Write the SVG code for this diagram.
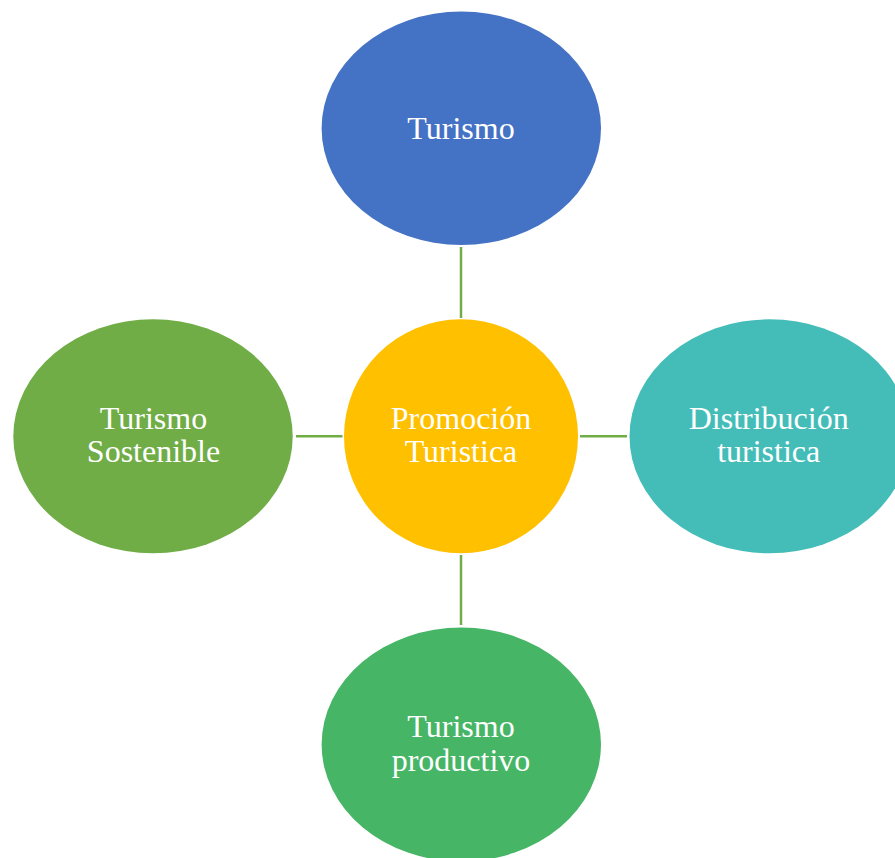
<svg xmlns="http://www.w3.org/2000/svg" width="895" height="858" viewBox="0 0 895 858">
<style>
.lbl{font-family:"Liberation Serif","Times New Roman",serif;font-size:32px;fill:#ffffff;text-anchor:middle}
.conn{stroke:#70AD47;stroke-width:2.5;fill:none}
</style>
<rect width="895" height="858" fill="#ffffff"/>
<g id="connectors">
<line class="conn" x1="461" y1="247" x2="461" y2="318"/>
<line class="conn" x1="461" y1="555" x2="461" y2="625"/>
<line class="conn" x1="296" y1="436.3" x2="342.5" y2="436.3"/>
<line class="conn" x1="580" y1="436.3" x2="627" y2="436.3"/>
</g>
<g id="node-turismo">
<ellipse cx="461.3" cy="128.3" rx="139.7" ry="116.7" fill="#4472C4"/>
<text class="lbl" x="461" y="139">Turismo</text>
</g>
<g id="node-promocion">
<ellipse cx="461" cy="436.3" rx="117" ry="117" fill="#FFC000"/>
<text class="lbl" x="461" y="429.3">Promoción</text>
<text class="lbl" x="461" y="462.3">Turistica</text>
</g>
<g id="node-sostenible">
<ellipse cx="153" cy="436.3" rx="139.7" ry="117" fill="#70AD47"/>
<text class="lbl" x="153.5" y="429.3">Turismo</text>
<text class="lbl" x="153.5" y="462.3">Sostenible</text>
</g>
<g id="node-distribucion">
<ellipse cx="769.5" cy="436.3" rx="140" ry="117" fill="#44BDB8"/>
<text class="lbl" x="768.7" y="429.3">Distribución</text>
<text class="lbl" x="768.7" y="462.3">turistica</text>
</g>
<g id="node-productivo">
<ellipse cx="461.3" cy="744.5" rx="139.7" ry="117" fill="#46B565"/>
<text class="lbl" x="461" y="737.3">Turismo</text>
<text class="lbl" x="461" y="770.5">productivo</text>
</g>
</svg>
